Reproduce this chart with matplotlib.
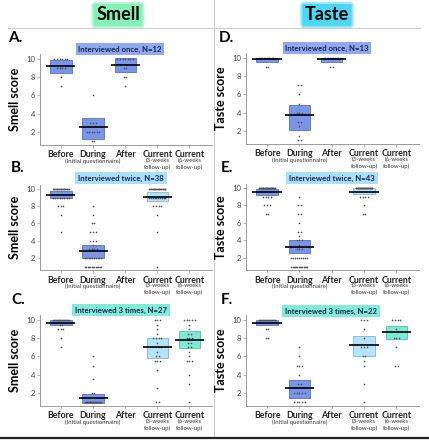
import matplotlib
matplotlib.use("Agg")
import matplotlib.pyplot as plt
from matplotlib.patches import Rectangle
from matplotlib.lines import Line2D
from collections import Counter

plt.rcParams['font.family'] = ['Lato', 'DejaVu Sans']

# ---------------- data ----------------
categories = ["Before", "During", "After", "Current", "Current"]
sub_labels = ["", "(Initial questionnaire)", "", "(3-weeks\nfollow-up)", "(6-weeks\nfollow-up)"]

# each group: (category index, box low, box high, mean, points)
smell_once = [
    (0, 8.5, 9.9, 9.2, [10, 10, 10, 10, 10, 10, 9, 9, 9, 9, 8, 7]),
    (1, 1.2, 3.5, 2.5, [6, 3, 3, 3, 2, 2, 2, 2, 2, 2, 1, 1]),
    (2, 8.6, 10.1, 9.3, [10, 10, 10, 10, 10, 10, 10, 9, 9, 8, 8, 7]),
]
smell_twice = [
    (0, 9.0, 9.75, 9.35, [10] * 22 + [9] * 8 + [8, 8, 8, 7, 5]),
    (1, 2.0, 3.5, 2.8, [8, 7, 6, 6, 5, 5, 5, 4, 4, 4, 3.5, 3, 3, 3, 3] + [2] * 10 + [1] * 13),
    (3, 8.6, 9.7, 9.1, [10] * 20 + [9] * 10 + [8, 8, 8, 8, 7, 5, 1]),
]
smell_three = [
    (0, 9.5, 10.0, 9.7, [10] * 18 + [9.5, 9.5, 9, 9, 9, 8, 7]),
    (1, 0.9, 1.9, 1.45, [6, 5, 3.5, 2, 2] + [1] * 22),
    (3, 5.8, 8.0, 7.05, [10, 10, 10, 9.5, 9, 8.5, 8, 8, 8, 8, 7.5, 7, 7, 7, 7, 6.5, 6, 6, 5.5, 5.5, 5.5, 4.5, 2.5, 1, 1]),
    (4, 6.9, 8.8, 7.8, [10, 10, 10, 10, 10, 9.5, 9, 8.5, 8.5, 8, 8, 8, 7.5, 7.5, 7, 7, 6.5, 6, 5.5, 5.5, 5.5, 4, 3, 1]),
]
taste_once = [
    (0, 9.6, 10.0, 9.85, [10] * 11 + [9, 9]),
    (1, 2.1, 4.8, 3.75, [7, 7, 6, 5, 4, 4, 4, 3, 3, 2.5, 1.5, 1, 1]),
    (2, 9.6, 10.0, 9.85, [10] * 11 + [9, 9]),
]
taste_twice = [
    (0, 9.2, 9.9, 9.6, [10] * 30 + [9, 9, 9, 9, 8, 8, 8, 7, 7]),
    (1, 2.5, 4.0, 3.25, [9, 8, 8, 7, 7, 6, 5, 5, 4.5, 4, 4, 4, 3.5, 3, 3, 3] + [2] * 9 + [1] * 14),
    (3, 9.35, 9.95, 9.6, [10] * 32 + [9, 9, 9, 9, 8, 7, 7]),
]
taste_three = [
    (0, 9.4, 10.0, 9.7, [10] * 17 + [9, 9, 8, 8]),
    (1, 1.5, 3.4, 2.6, [7, 6, 5, 5, 5, 4, 3, 3, 2, 2, 2, 2, 2, 1, 1, 1, 1, 1]),
    (3, 6.1, 8.2, 7.3, [10, 10, 10, 9, 8, 7, 7, 7, 6, 6, 5.5, 5, 3, 1]),
    (4, 7.9, 9.3, 8.65, [10, 10, 10, 10, 9, 8, 8, 8, 7, 5, 5]),
]

y_ticks = [2, 4, 6, 8, 10]

# ---------------- styling ----------------
W, H = 429, 440
fig = plt.figure(figsize=(W / 100, H / 100), dpi=100)

def px_axes(left, top, right, bottom):
    return fig.add_axes([left / W, 1 - bottom / H, (right - left) / W, (bottom - top) / H])

box_colors = {0: ("#7b95e6", "#5570c8"), 1: ("#7b95e6", "#5570c8"), 2: ("#7b95e6", "#5570c8"),
              3: ("#b5e3fb", "#7fb5d8"), 4: ("#7fe9d6", "#4fbfa8")}

XLIM = (-0.65, 4.7)
YLIM = (0.6, 10.5)

def draw_panel(ax, groups):
    ax.set_xlim(*XLIM)
    ax.set_ylim(*YLIM)
    for s in ("top", "right"):
        ax.spines[s].set_visible(False)
    for s in ("left", "bottom"):
        ax.spines[s].set_color("#9a9a9a")
        ax.spines[s].set_linewidth(0.7)
    ax.set_yticks(y_ticks)
    ax.set_yticklabels([str(t) for t in y_ticks], fontsize=5.5, color="#444444")
    ax.tick_params(axis="y", length=2, width=0.5, color="#9a9a9a", pad=1.5)
    ax.set_xticks(range(len(categories)))
    ax.set_xticklabels(categories, fontsize=6.3, fontweight="bold", color="#222222")
    ax.tick_params(axis="x", length=2, width=0.5, color="#9a9a9a", pad=2)
    for i, sl in enumerate(sub_labels):
        if sl:
            ax.annotate(sl, xy=(i, 0), xycoords=("data", "axes fraction"),
                        xytext=(0, -9.5), textcoords="offset points",
                        ha="center", va="top", fontsize=4.3, color="#333333",
                        linespacing=1.15)
    for (ci, lo, hi, mean, pts) in groups:
        fc, ec = box_colors[ci]
        ax.add_patch(Rectangle((ci - 0.33, lo), 0.66, hi - lo, facecolor=fc,
                               edgecolor=ec, linewidth=0.6, zorder=2))
        # deterministic spread of tied values
        cnt = Counter(pts)
        seen = Counter()
        xs, ys = [], []
        for v in pts:
            n = cnt[v]
            k = seen[v]
            seen[v] += 1
            spread = min(0.5, 0.08 * (n - 1))
            off = 0 if n == 1 else -spread / 2 + spread * k / (n - 1)
            xs.append(ci + off)
            ys.append(v)
        ax.scatter(xs, ys, s=1.4, color="#505050", zorder=3, linewidths=0)
        ax.plot([ci - 0.45, ci + 0.45], [mean, mean], color="black", lw=1.2, zorder=4,
                solid_capstyle="butt")

def subtitle(text, color, xc_px, yc_px):
    fig.text(xc_px / W, 1 - yc_px / H, text, ha="center", va="center", fontsize=5.6,
             color="#1a2550", fontweight="bold",
             bbox=dict(boxstyle="square,pad=0.35", facecolor=color, edgecolor="none"))

panels = [
    ("A.", smell_once, (40, 54.4, 212, 144.8), (8, 38), "Interviewed once, N=12", "#8fa8f0", (120, 49)),
    ("B.", smell_twice, (40, 184.7, 212, 270), (11, 168), "Interviewed twice, N=38", "#a9dff8", (121, 178)),
    ("C.", smell_three, (40, 315.4, 212, 405.8), (11, 300), "Interviewed 3 times, N=27", "#82ead8", (121, 310)),
    ("D.", taste_once, (246, 53.4, 419, 143.8), (219, 38), "Interviewed once, N=13", "#8fa8f0", (327, 48)),
    ("E.", taste_twice, (246, 183.7, 419, 270), (221, 168), "Interviewed twice, N=43", "#a9dff8", (332, 178)),
    ("F.", taste_three, (246, 315.4, 419, 405.8), (221, 300), "Interviewed 3 times, N=22", "#82ead8", (331, 311)),
]

for letter, groups, (l, t, r, b), (lx, ly), stxt, scol, (sx, sy) in panels:
    ax = px_axes(l, t, r, b)
    draw_panel(ax, groups)
    fig.text(lx / W, 1 - ly / H, letter, fontsize=11, fontweight="bold", ha="left", va="center",
             color="black")
    subtitle(stxt, scol, sx, sy)
    ylab = "Smell score" if l < 200 else "Taste score"
    fig.text((l - 25) / W, 1 - ((t + b) / 2) / H, ylab, rotation=90, fontsize=9,
             fontweight="bold", ha="center", va="center")

# column titles
fig.text(118 / W, 1 - 15 / H, "Smell", fontsize=13, fontweight="bold", ha="center", va="center",
         bbox=dict(boxstyle="round,pad=0.2,rounding_size=0.15", facecolor="#86f0b8", edgecolor="#b8f7d6", linewidth=1.5))
fig.text(327 / W, 1 - 15 / H, "Taste", fontsize=13, fontweight="bold", ha="center", va="center",
         bbox=dict(boxstyle="round,pad=0.2,rounding_size=0.15", facecolor="#4fd6f5", edgecolor="#9fe8fa", linewidth=1.5))

# separators
fig.add_artist(Line2D([8 / W, 420 / W], [1 - 28.5 / H, 1 - 28.5 / H], color="#cccccc", lw=0.8))
fig.add_artist(Line2D([213.5 / W, 213.5 / W], [1 - 0 / H, 1 - 436 / H], color="#cccccc", lw=0.8))
fig.add_artist(Line2D([0, 1], [1 - 438 / H, 1 - 438 / H], color="#222222", lw=1.6))

fig.savefig("out.png", dpi=100)
